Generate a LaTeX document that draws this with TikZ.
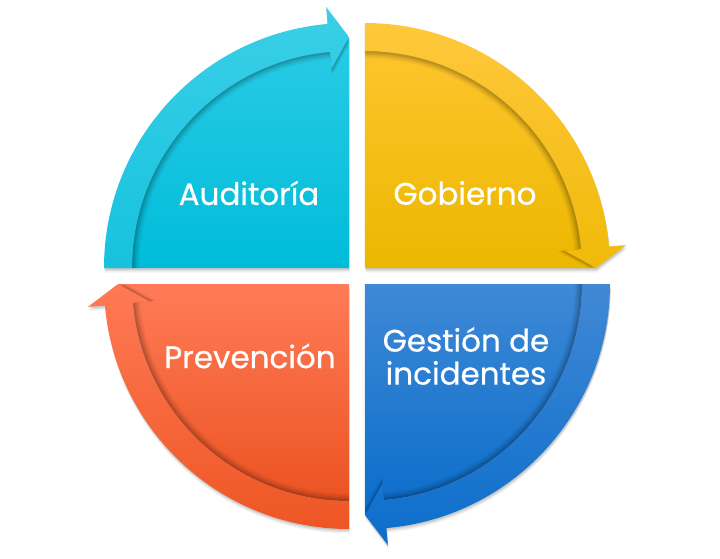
\documentclass[tikz,border=0pt]{standalone}
\usepackage{fontspec}
\setmainfont{Poppins}
\newfontfamily\lblfont{Poppins}[FakeBold=0.6]
\begin{document}
\begin{tikzpicture}[x=1pt,y=1pt,
  lbl/.style={text=white,font=\lblfont\fontsize{31}{33}\selectfont,align=center,inner sep=0pt}]
\useasboundingbox (-357,-282) rectangle (363,276);
\fill[white] (-357,-282) rectangle (363,276);
\def\Rout{245}\def\Rin{217}
\newcommand\quadshadow[2]{%
  \pgfmathsetmacro\ae{#2-85}\pgfmathsetmacro\at{#2-90}%
  \foreach \o/\op in {1.5/0.10,3/0.08,4.5/0.05}{%
  \begin{scope}[shift={(#1)},shift={(0.6,-\o)}]
    \fill[black,opacity=\op] (0,0) -- (#2:\Rout) arc[start angle=#2,end angle=\ae,radius=\Rout]
      -- (\ae:262) -- (\at:231) -- cycle;
  \end{scope}}}
\newcommand\bandpath[2]{%
  (#2:\Rout) arc[start angle=#2,end angle=#1,radius=\Rout]
      -- (#1:262) -- (#2-90:231) -- (#1:200) -- (#1:\Rin)
      arc[start angle=#1,end angle=#2,radius=\Rin] -- cycle}
\newcommand\quadrant[6]{%
  \pgfmathsetmacro\ae{#2-85}\pgfmathsetmacro\at{#2-90}%
  \begin{scope}[shift={(#1)}]
    \shade[top color=#3,bottom color=#4] (0,0) -- (#2:\Rin) arc[start angle=#2,end angle=\ae,radius=\Rin]
      -- (\at:231) -- cycle;
    \foreach \s/\op in {0.99/0.10,0.982/0.08,0.974/0.06,0.966/0.04}{%
      \begin{scope}[scale=\s]
      \fill[black,opacity=\op] (#2:\Rout) arc[start angle=#2,end angle=\ae,radius=\Rout]
      -- (\ae:262) -- (\at:231) -- (\ae:200) -- (\ae:\Rin)
      arc[start angle=\ae,end angle=#2,radius=\Rin] -- cycle;
      \end{scope}}
    \shade[top color=#5,bottom color=#6] (#2:\Rout) arc[start angle=#2,end angle=\ae,radius=\Rout]
      -- (\ae:262) -- (\at:231) -- (\ae:200) -- (\ae:\Rin)
      arc[start angle=\ae,end angle=#2,radius=\Rin] -- cycle;
  \end{scope}}
\definecolor{cyT}{HTML}{29CBE5}\definecolor{cyB}{HTML}{00BCD9}
\definecolor{cyBT}{HTML}{3ACFE7}\definecolor{cyBB}{HTML}{16C2DE}
\definecolor{yeT}{HTML}{FDC52C}\definecolor{yeB}{HTML}{ECB700}
\definecolor{yeBT}{HTML}{FEC83C}\definecolor{yeBB}{HTML}{F0BA08}
\definecolor{blT}{HTML}{3F89D6}\definecolor{blB}{HTML}{0A6DCA}
\definecolor{blBT}{HTML}{4188D5}\definecolor{blBB}{HTML}{0B6ECB}
\definecolor{orT}{HTML}{FF7B57}\definecolor{orB}{HTML}{EC5322}
\definecolor{orBT}{HTML}{FF7A55}\definecolor{orBB}{HTML}{EE5624}
\quadshadow{-8,8}{180}
\quadshadow{8,8}{90}
\quadshadow{8,-8}{0}
\quadshadow{-8,-8}{-90}
\quadrant{-8,8}{180}{cyT}{cyB}{cyBT}{cyBB}
\quadrant{8,8}{90}{yeT}{yeB}{yeBT}{yeBB}
\quadrant{8,-8}{0}{blT}{blB}{blBT}{blBB}
\quadrant{-8,-8}{-90}{orT}{orB}{orBT}{orBB}
\node[lbl] (aud) at (-108,83) {Auditoría};
\node[lbl] (gob) at (108,83) {Gobierno};
\node[lbl] (prev) at (-107,-80) {Prevención};
\node[lbl] (gest) at (109,-80) {Gestión de\\incidentes};
\end{tikzpicture}
\end{document}
